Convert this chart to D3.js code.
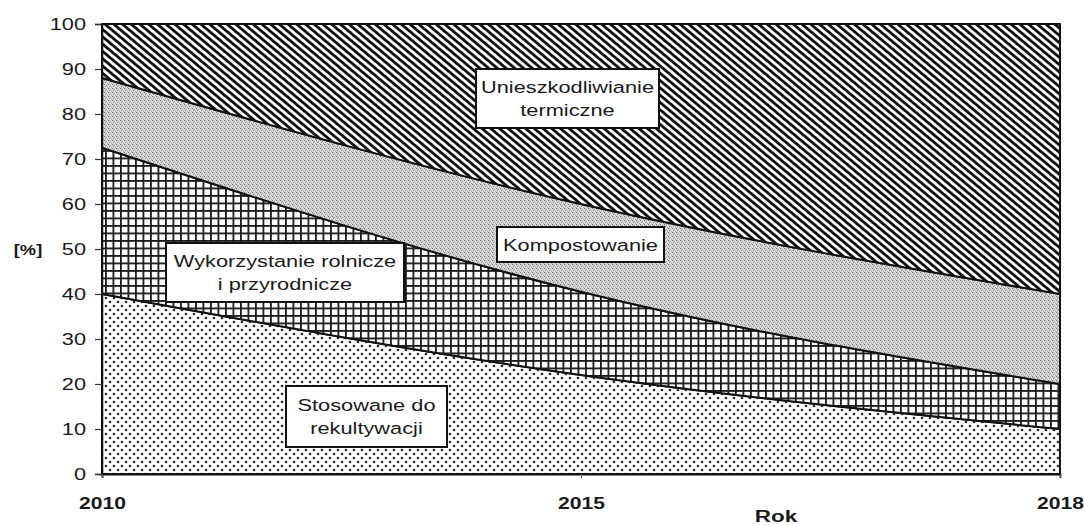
<!DOCTYPE html>
<html>
<head>
<meta charset="utf-8">
<script src="https://cdn.jsdelivr.net/npm/d3@7"></script>
<style>
  html, body { margin: 0; padding: 0; background: #fff; }
  svg { display: block; font-family: "Liberation Sans", Arial, sans-serif; }
</style>
</head>
<body>
<svg id="chart" width="1085" height="525"></svg>
<script>
// ---- data ----
const years = ["2010", "2015", "2018"];
const stosowane = [40, 22, 10];          // Stosowane do rekultywacji
const wykorzystanie = [32.5, 18.5, 10];  // Wykorzystanie rolnicze i przyrodnicze
const kompostowanie = [15.5, 19.5, 20];  // Kompostowanie
const termiczne = [12, 40, 60];          // Unieszkodliwianie termiczne
const seriesKeys = ["stosowane", "wykorzystanie", "kompostowanie", "termiczne"];
const yTickValues = [0, 10, 20, 30, 40, 50, 60, 70, 80, 90, 100];
const xTickLabels = ["2010", "2015", "2018"];
const labels = {
  termiczne: ["Unieszkodliwianie", "termiczne"],
  kompostowanie: ["Kompostowanie"],
  wykorzystanie: ["Wykorzystanie rolnicze", "i przyrodnicze"],
  stosowane: ["Stosowane do", "rekultywacji"]
};

// ---- layout ----
const M = { left: 102, right: 1060, top: 24, bottom: 474 };
const SX = 1.32; // horizontal stretch of the original picture's text

const svg = d3.select("#chart");
const defs = svg.append("defs");

// stripes (Unieszkodliwianie termiczne)
const pStripe = defs.append("pattern").attr("id", "pStripe")
  .attr("patternUnits", "userSpaceOnUse").attr("width", 6).attr("height", 5.6)
  .attr("patternTransform", "rotate(40)");
pStripe.append("rect").attr("width", 6).attr("height", 5.6).attr("fill", "#fff");
pStripe.append("rect").attr("width", 6).attr("height", 2.8).attr("fill", "#111");

// grey stipple (Kompostowanie)
const pGrey = defs.append("pattern").attr("id", "pGrey")
  .attr("patternUnits", "userSpaceOnUse").attr("width", 4).attr("height", 4);
pGrey.append("rect").attr("width", 4).attr("height", 4).attr("fill", "#d2d2d2");
[[0,0,"#6f6f6f"],[2,1,"#9a9a9a"],[1,2,"#808080"],[3,3,"#a4a4a4"],[2,3,"#f4f4f4"],[0,2,"#efefef"],[3,1,"#e8e8e8"]].forEach(d => {
  pGrey.append("rect").attr("x", d[0]).attr("y", d[1]).attr("width", 1).attr("height", 1).attr("fill", d[2]);
});

// grid (Wykorzystanie)
const pGrid = defs.append("pattern").attr("id", "pGrid")
  .attr("patternUnits", "userSpaceOnUse").attr("width", 7.5).attr("height", 7.5);
pGrid.append("rect").attr("width", 7.5).attr("height", 7.5).attr("fill", "#fff");
pGrid.append("rect").attr("x", 0).attr("y", 0).attr("width", 1.8).attr("height", 7.5).attr("fill", "#1a1a1a");
pGrid.append("rect").attr("x", 0).attr("y", 0).attr("width", 7.5).attr("height", 1.8).attr("fill", "#1a1a1a");

// dots (Stosowane)
const pDot = defs.append("pattern").attr("id", "pDot")
  .attr("patternUnits", "userSpaceOnUse").attr("width", 8).attr("height", 8);
pDot.append("rect").attr("width", 8).attr("height", 8).attr("fill", "#fff");
pDot.append("circle").attr("cx", 2).attr("cy", 2).attr("r", 1.35).attr("fill", "#2a2a2a");
pDot.append("circle").attr("cx", 6).attr("cy", 6).attr("r", 1.35).attr("fill", "#2a2a2a");

const fills = {
  stosowane: "url(#pDot)",
  wykorzystanie: "url(#pGrid)",
  kompostowanie: "url(#pGrey)",
  termiczne: "url(#pStripe)"
};

// ---- scales ----
const x = d3.scalePoint().domain(years).range([M.left, M.right]);
const y = d3.scaleLinear().domain([0, 100]).range([M.bottom, M.top]);

const table = years.map((yr, i) => ({
  year: yr,
  stosowane: stosowane[i],
  wykorzystanie: wykorzystanie[i],
  kompostowanie: kompostowanie[i],
  termiczne: termiczne[i]
}));
const stacked = d3.stack().keys(seriesKeys)(table);

const area = d3.area()
  .x(d => x(d.data.year))
  .y0(d => y(d[0]))
  .y1(d => y(d[1]))
  .curve(d3.curveMonotoneX);

svg.append("g").selectAll("path").data(stacked).join("path")
  .attr("d", area)
  .attr("fill", d => fills[d.key])
  .attr("stroke", "#111")
  .attr("stroke-width", 2)
  .attr("stroke-linejoin", "round");

// ---- axes ----
const yAxis = svg.append("g").attr("transform", `translate(${M.left},0)`)
  .call(d3.axisLeft(y).tickValues(yTickValues).tickSize(7).tickPadding(9));
yAxis.select(".domain").attr("stroke", "#111").attr("stroke-width", 1.5);
yAxis.selectAll(".tick line").attr("stroke", "#333").attr("stroke-width", 1.2);
yAxis.selectAll(".tick text")
  .attr("font-size", 16.5).attr("fill", "#1a1a1a")
  .attr("font-family", "'Liberation Sans', Arial, sans-serif")
  .attr("transform", function() { return `translate(${d3.select(this).attr("x")},0) scale(${SX},1)`; })
  .attr("x", 0);

const xAxis = svg.append("g").attr("transform", `translate(0,${M.bottom})`)
  .call(d3.axisBottom(x).tickValues(xTickLabels).tickSize(4).tickPadding(20));
xAxis.select(".domain").attr("stroke", "#111").attr("stroke-width", 1.8);
xAxis.selectAll(".tick line").attr("stroke", "#555");
xAxis.selectAll(".tick text")
  .attr("font-size", 16).attr("font-weight", "bold").attr("fill", "#1a1a1a")
  .attr("font-family", "'Liberation Sans', Arial, sans-serif")
  .attr("transform", function() { return `translate(0,${d3.select(this).attr("y")}) scale(${SX},1)`; })
  .attr("y", 0);

// axis titles
svg.append("text").attr("transform", `translate(776,522) scale(${SX},1)`)
  .attr("text-anchor", "middle").attr("font-size", 17).attr("font-weight", "bold")
  .attr("fill", "#1a1a1a").text("Rok");
svg.append("text").attr("transform", `translate(28,255) scale(${SX - 0.1},1)`)
  .attr("text-anchor", "middle").attr("font-size", 15).attr("font-weight", "bold")
  .attr("fill", "#1a1a1a").text("[%]");

// ---- label boxes ----
const boxes = [
  { key: "termiczne", x0: 476, x1: 659, y0: 69, y1: 128 },
  { key: "kompostowanie", x0: 497, x1: 664, y0: 227, y1: 262 },
  { key: "wykorzystanie", x0: 166, x1: 404, y0: 243, y1: 302 },
  { key: "stosowane", x0: 286, x1: 447, y0: 386, y1: 447 }
];
const bg = svg.append("g");
boxes.forEach(b => {
  bg.append("rect").attr("x", b.x0).attr("y", b.y0)
    .attr("width", b.x1 - b.x0).attr("height", b.y1 - b.y0)
    .attr("fill", "#fff").attr("stroke", "#111").attr("stroke-width", 2);
  const lines = labels[b.key];
  const cx = (b.x0 + b.x1) / 2, cy = (b.y0 + b.y1) / 2;
  const lh = 23;
  lines.forEach((t, i) => {
    const ty = cy + (i - (lines.length - 1) / 2) * lh + 6;
    bg.append("text").attr("transform", `translate(${cx},${ty}) scale(${SX},1)`)
      .attr("text-anchor", "middle").attr("font-size", 16.5).attr("fill", "#1a1a1a").text(t);
  });
});
</script>
</body>
</html>
